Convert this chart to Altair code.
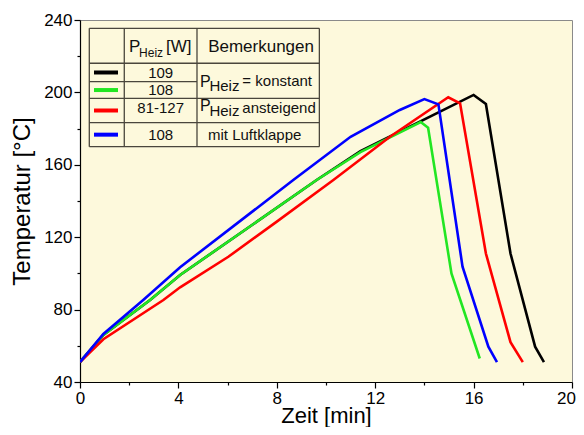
import altair as alt
import pandas as pd

# ---------------- data ----------------
series_names = ["109 W konstant", "108 W konstant", "81-127 W ansteigend", "108 W mit Luftklappe"]
series_colors = ["#000000", "#22e622", "#ff0000", "#0000ff"]

black_t = [0, 0.95, 2.85, 4.07, 9.62, 11.4, 16.0, 16.5, 17.5, 18.5, 18.86]
black_T = [51, 66, 85.3, 99.1, 151.6, 167.5, 198.6, 193.6, 111, 59.5, 51]
green_t = [0, 0.95, 2.85, 4.07, 9.62, 11.4, 13.85, 14.15, 15.1, 16.25]
green_T = [51, 66, 85.3, 99.1, 151.6, 167, 183.6, 180.5, 100, 53]
red_t = [0, 0.95, 3.39, 4.07, 6.03, 8.0, 10.3, 12.6, 14.97, 15.45, 16.5, 17.5, 18.0]
red_T = [51, 63.6, 85.3, 92.3, 109.2, 128.6, 151.6, 175.5, 197.3, 194, 111, 62, 51]
blue_t = [0, 0.95, 2.57, 4.07, 8.67, 11.0, 13.0, 14.0, 14.57, 15.55, 16.6, 16.95]
blue_T = [51, 66.5, 85.3, 103.4, 151.6, 175.5, 190.3, 196.3, 193.4, 103.7, 59.5, 51]

x_ticks = [0, 2, 4, 6, 8, 10, 12, 14, 16, 18, 20]
y_ticks = [40, 60, 80, 100, 120, 140, 160, 180, 200, 220, 240]

# legend table contents
power_values = ["109", "108", "81-127", "108"]
header_power = ["P", "Heiz", " [W]"]
header_remarks = "Bemerkungen"
remark_konstant = ["P", "Heiz", "= konstant"]
remark_ansteigend = ["P", "Heiz", "ansteigend"]
remark_klappe = "mit Luftklappe"

FONT = "Liberation Sans"

# ---------------- table geometry (in data units) ----------------
col_edges = [0.378, 1.80, 4.756, 9.73]
row_edges = [235.4, 216.1, 205.9, 196.7, 183.3, 170.0]
row_centers = [(row_edges[1] + row_edges[2]) / 2, (row_edges[2] + row_edges[3]) / 2,
               (row_edges[3] + row_edges[4]) / 2, (row_edges[4] + row_edges[5]) / 2]

xs = alt.Scale(domain=[0, 20], nice=False, zero=False)
ys = alt.Scale(domain=[40, 240], nice=False, zero=False)

x_axis = alt.Axis(
    values=x_ticks, title="Zeit [min]",
    labelExpr="datum.value % 4 === 0 ? datum.label : ''",
    tickSize={"condition": {"test": "datum.value % 4 === 0", "value": 6}, "value": 3},
    labelOffset={"condition": {"test": "datum.value === 20", "value": -6}, "value": 0},
    labelFlush=False, labelOverlap=False, grid=False,
    labelPadding=2, titleBaseline="alphabetic", titleY=40, titleFontSize=22,
)
y_axis = alt.Axis(
    values=y_ticks, title="Temperatur [°C]",
    labelExpr="datum.value % 40 === 0 ? datum.label : ''",
    tickSize={"condition": {"test": "datum.value % 40 === 0", "value": 6}, "value": 3},
    labelFlush=False, labelOverlap=False, grid=False,
    labelPadding=2, titlePadding=9, titleFontSize=24,
)


def X(field="x"):
    return alt.X(f"{field}:Q", scale=xs, axis=x_axis)


def Y(field="y"):
    return alt.Y(f"{field}:Q", scale=ys, axis=y_axis)


layers = []
all_t = [black_t, green_t, red_t, blue_t]
all_T = [black_T, green_T, red_T, blue_T]
for nm, col, tt, TT in zip(series_names, series_colors, all_t, all_T):
    df = pd.DataFrame({"x": tt, "y": TT, "order": list(range(len(tt)))})
    layers.append(
        alt.Chart(df).mark_line(color=col, strokeWidth=2.6, strokeJoin="miter", clip=True)
        .encode(x=X(), y=Y(), order="order:Q")
    )

# table grid lines
seg = []
for j, yv in enumerate(row_edges):
    if j == 2:
        seg.append((col_edges[0], col_edges[2], yv, yv))
    else:
        seg.append((col_edges[0], col_edges[3], yv, yv))
for xv in col_edges:
    seg.append((xv, xv, row_edges[0], row_edges[-1]))
seg_df = pd.DataFrame(seg, columns=["x", "x2", "y", "y2"])
layers.append(
    alt.Chart(seg_df).mark_rule(color="#4a463c", strokeWidth=1.3)
    .encode(x=X(), x2="x2:Q", y=Y(), y2="y2:Q")
)

# swatches
sw_df = pd.DataFrame({"x": [0.57] * 4, "x2": [1.545] * 4, "y": row_centers,
                      "s": series_names})
layers.append(
    alt.Chart(sw_df).mark_rule(strokeWidth=4)
    .encode(x=X(), x2="x2:Q", y=Y(),
            color=alt.Color("s:N", scale=alt.Scale(domain=series_names, range=series_colors), legend=None))
)


def txt(items, size, align="left", dy=0):
    df = pd.DataFrame(items, columns=["x", "y", "label"])
    return (alt.Chart(df).mark_text(align=align, baseline="middle", font=FONT, fontSize=size,
                                    color="#111111", dy=dy)
            .encode(x=X(), y=Y(), text="label:N"))


hy = 225.25
layers.append(txt([(1.99, hy, header_power[0]), (3.50, hy, header_power[2])], 17))
layers.append(txt([(2.40, 222.0, header_power[1])], 12))
layers.append(txt([(7.36, hy, header_remarks)], 17, align="center"))
layers.append(txt([(3.28, yv, p) for yv, p in zip([210.55, 201.3, 191.2, 176.5], power_values)], 15,
                  align="center"))
layers.append(txt([(4.88, 205.6, remark_konstant[0]), (4.88, 192.6, remark_ansteigend[0])], 16))
layers.append(txt([(5.26, 203.6, remark_konstant[1]), (5.26, 190.0, remark_ansteigend[1])], 15))
layers.append(txt([(6.60, 206.3, remark_konstant[2]), (6.60, 191.6, remark_ansteigend[2])], 15))
layers.append(txt([(7.1, 176.5, remark_klappe)], 15, align="center"))

chart = (
    alt.layer(*layers)
    .properties(width=492, height=362, autosize="none",
                padding={"left": 72, "top": 12, "right": 4, "bottom": 45},
                background="white")
    .configure_view(fill="#fdf9dc", stroke="#8a8a8a", strokeWidth=1)
    .configure_axis(domainColor="black", tickColor="black", labelColor="black", titleColor="black",
                    labelFont=FONT, titleFont=FONT, labelFontSize=17,
                    titleFontWeight="normal", domainWidth=1.2, tickWidth=1.2)
)

chart.save("out.html", embed_options={"renderer": "svg", "actions": False})
